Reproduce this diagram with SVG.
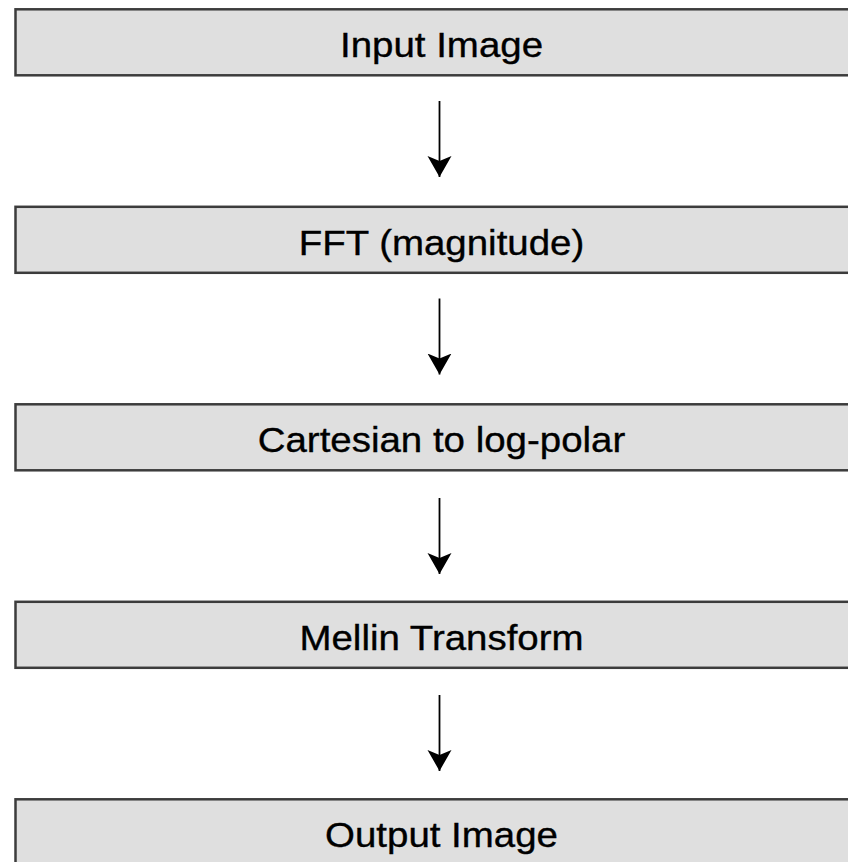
<svg xmlns="http://www.w3.org/2000/svg" width="848" height="862" viewBox="0 0 848 862">
<style>
.box{fill:#dfdfdf;stroke:#3c3c3c;stroke-width:2.5}
.lbl{font-family:"Liberation Sans",Arial,sans-serif;font-size:34.5px;fill:#000;stroke:#000;stroke-width:0.35;text-anchor:middle}
.conn{stroke:#000;stroke-width:1.8;fill:none}
</style>
<defs>
<marker id="ah" markerUnits="userSpaceOnUse" viewBox="0 -12.5 21 25" refX="21" refY="0" markerWidth="21" markerHeight="25" orient="auto">
<path d="M0,-12 L21,0 L0,12 L5,0 Z" fill="#000"/>
</marker>
</defs>
<rect width="848" height="862" fill="#fff"/>
<g id="n1"><rect class="box" x="15.5" y="9.3" width="870" height="66"/><text class="lbl" transform="matrix(1.115 0 0 1 441.5 57)">Input Image</text></g>
<g id="n2"><rect class="box" x="15.5" y="206.8" width="870" height="66"/><text class="lbl" transform="matrix(1.115 0 0 1 441.5 254.5)">FFT (magnitude)</text></g>
<g id="n3"><rect class="box" x="15.5" y="404.3" width="870" height="66"/><text class="lbl" transform="matrix(1.115 0 0 1 441.5 452)">Cartesian to log-polar</text></g>
<g id="n4"><rect class="box" x="15.5" y="601.8" width="870" height="66"/><text class="lbl" transform="matrix(1.115 0 0 1 441.5 649.5)">Mellin Transform</text></g>
<g id="n5"><rect class="box" x="15.5" y="799.3" width="870" height="66"/><text class="lbl" transform="matrix(1.115 0 0 1 441.5 847)">Output Image</text></g>
<g id="connectors">
<line class="conn" x1="439.5" y1="101" x2="439.5" y2="177" marker-end="url(#ah)"/>
<line class="conn" x1="439.5" y1="298.5" x2="439.5" y2="374.5" marker-end="url(#ah)"/>
<line class="conn" x1="439.5" y1="498" x2="439.5" y2="574" marker-end="url(#ah)"/>
<line class="conn" x1="439.5" y1="695" x2="439.5" y2="771" marker-end="url(#ah)"/>
</g>
</svg>
